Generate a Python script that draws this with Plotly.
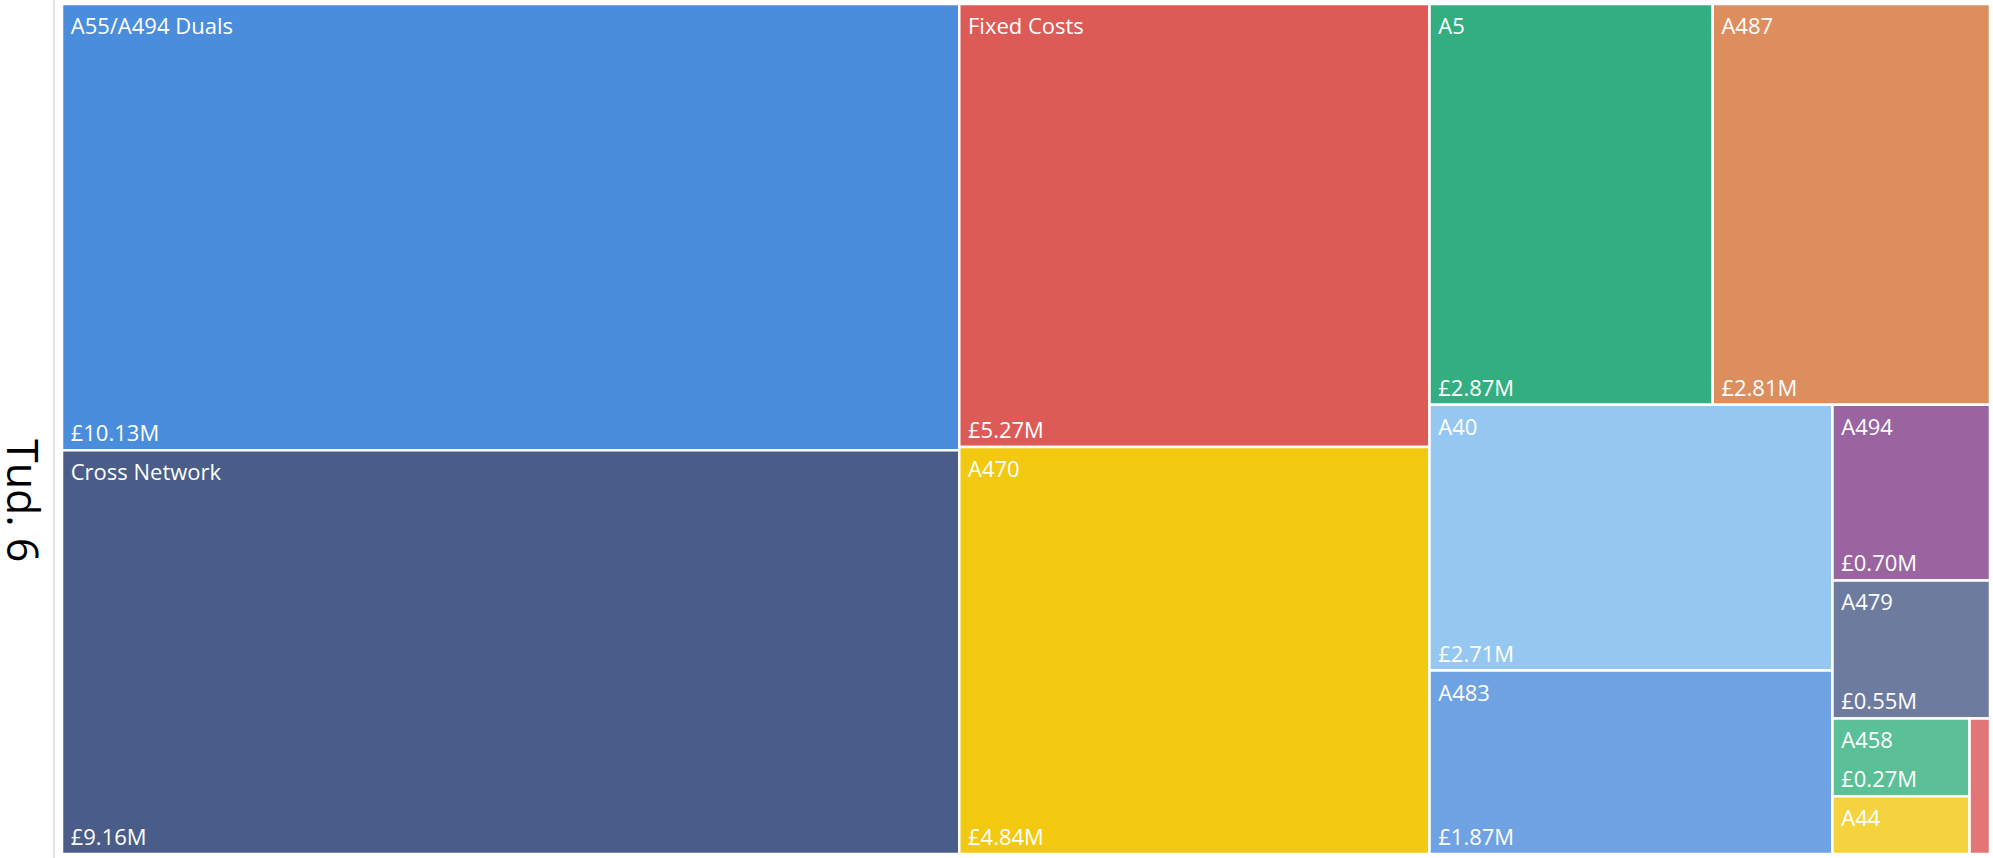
import plotly.graph_objects as go

# ---- data ----
names = ["A55/A494 Duals", "Cross Network", "Fixed Costs", "A470", "A5", "A487",
         "A40", "A483", "A494", "A479", "A458", "A44", "Other"]
values_m = [10.13, 9.16, 5.27, 4.84, 2.87, 2.81, 2.71, 1.87, 0.70, 0.55, 0.27, 0.20, 0.07]
colors = ["#4A8DDC", "#4A5C88", "#DC5B57", "#F2C811", "#33AE81", "#DC8E5E",
          "#95C7F0", "#6FA2E3", "#9A64A0", "#6D7B9F", "#5BBF98", "#F5D33F", "#E27676"]
hide_label = {"Other"}
hide_value = {"A44", "Other"}
title_text = "Tud. 6"

parents = [""] * len(names)
NB = "\u00a0"
label_tpl = ["" if n in hide_label else NB + "%{label}" for n in names]
value_tpl = ["" if n in hide_value else NB + "£%{value:.2f}M" for n in names]

FONT = "Open Sans, Noto Sans, DejaVu Sans, sans-serif"
FS = 22
text_font = dict(family=FONT, size=FS, color="white")

W, H = 1993, 858
# treemap rectangle in pixels
X0, X1, Y0, Y1 = 62, 1990, 4, 854
ml, mr, mt, mb = X0, 0, 0, 0
pw, ph = W - ml - mr, H - mt - mb


def dom(dx=0, dy=0):
    # dy > 0 moves down
    return dict(x=[(X0 - ml + dx) / pw, (X1 - ml + dx) / pw],
                y=[(H - Y1 - dy) / ph, (H - Y0 - dy) / ph])


common = dict(
    labels=names, parents=parents, values=values_m,
    sort=True, tiling=dict(packing="squarify", squarifyratio=1.618, pad=0),
    pathbar=dict(visible=False), root=dict(color="rgba(0,0,0,0)"),
)
nopad = dict(t=0, l=0, r=0, b=0)

fig = go.Figure()
fig.add_trace(go.Treemap(
    **common, domain=dom(),
    marker=dict(colors=colors, line=dict(color="white", width=2.5), pad=nopad),
    texttemplate=[""] * len(names), hoverinfo="skip",
))
fig.add_trace(go.Treemap(
    **common, domain=dom(0, 3),
    marker=dict(colors=["rgba(0,0,0,0)"] * len(names),
                line=dict(color="rgba(0,0,0,0)", width=0), pad=nopad),
    texttemplate=label_tpl, textposition="top left", textfont=text_font,
    hoverinfo="skip",
))
fig.add_trace(go.Treemap(
    **common, domain=dom(0, 0),
    marker=dict(colors=["rgba(0,0,0,0)"] * len(names),
                line=dict(color="rgba(0,0,0,0)", width=0), pad=nopad),
    texttemplate=value_tpl, textposition="bottom left", textfont=text_font,
    hovertemplate="%{label}<br>£%{value:.2f}M<extra></extra>",
))

fig.add_shape(type="line", xref="paper", yref="paper",
              x0=(54 - ml) / pw, x1=(54 - ml) / pw, y0=0, y1=1,
              line=dict(color="#E4E4E4", width=2))
fig.add_annotation(text=title_text, xref="paper", yref="paper",
                   x=(24 - ml) / pw, y=1 - (500 - mt) / ph,
                   xanchor="center", yanchor="middle", textangle=90, showarrow=False,
                   font=dict(family=FONT, size=43, color="black"))

fig.update_layout(
    width=W, height=H,
    margin=dict(l=ml, r=mr, t=mt, b=mb),
    paper_bgcolor="white",
    uniformtext=dict(minsize=FS, mode="hide"),
    showlegend=False,
)
fig.write_html("out.html", config={"displayModeBar": False},
               post_script="document.body.style.margin='0';document.body.style.overflow='hidden';")
